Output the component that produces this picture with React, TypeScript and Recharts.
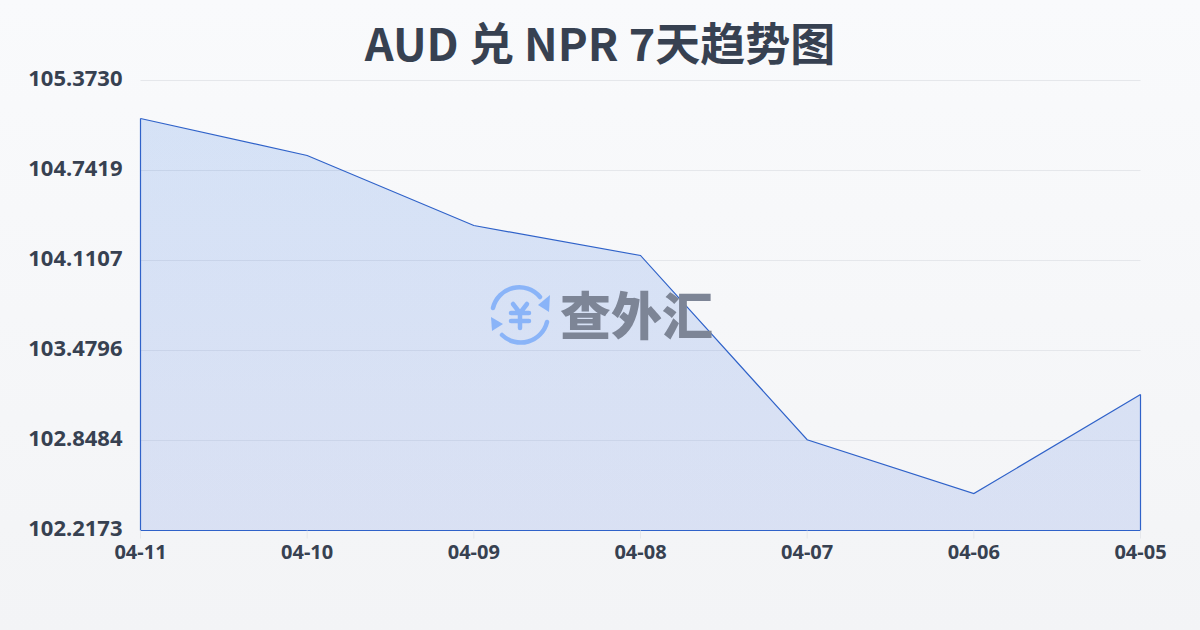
import { Area, AreaChart, CartesianGrid, ReferenceLine, XAxis, YAxis } from 'recharts'

const dates = ['04-11', '04-10', '04-09', '04-08', '04-07', '04-06', '04-05']
const rates = [105.1065, 104.847, 104.356, 104.146, 102.854, 102.476, 103.171]
const yTicks = [102.2173, 102.8484, 103.4796, 104.1107, 104.7419, 105.373]

const LINE = '#2f62c9'
const INK = '#374151'
const CJK_FONT = '"Noto Sans CJK SC", "Noto Sans", sans-serif'
const LABEL_FONT = '"Noto Sans", sans-serif'

const data = dates.map((date, i) => ({ date, rate: rates[i] }))
const yMin = yTicks[0]
const yMax = yTicks[yTicks.length - 1]
const firstDate = dates[0]
const lastDate = dates[dates.length - 1]

// Logo that sits in the middle of the chart
const Watermark = () => (
  <div style={{ position: 'absolute', left: 488, top: 280, width: 230, height: 70, pointerEvents: 'none' }}>
    <svg width={66} height={70} viewBox="0 0 66 70" style={{ position: 'absolute', left: 0, top: 0 }}>
      <g fill="none" stroke="#8ab4f8" strokeWidth={4.5} strokeLinecap="round">
        <path d="M5 28 A27 27 0 0 1 52 17" />
        <path d="M59 42 A27 27 0 0 1 14 55" />
        <path d="M25 24 L32 33 L39 24 M32 33 V48 M23 33 H41 M23 41 H41" />
      </g>
      <path d="M62 15 L61 32 L50 25 Z" fill="#8ab4f8" />
      <path d="M3 37 L4 51 L15 44 Z" fill="#8ab4f8" />
    </svg>
    <div
      style={{
        position: 'absolute',
        left: 72,
        top: -2,
        fontFamily: CJK_FONT,
        fontWeight: 900,
        fontSize: 51,
        lineHeight: '70px',
        color: '#7d8596',
        whiteSpace: 'nowrap',
      }}
    >
      查外汇
    </div>
  </div>
)

export default function App() {
  return (
    <div
      style={{
        position: 'absolute',
        left: 0,
        top: 0,
        width: 1200,
        height: 630,
        overflow: 'hidden',
        background: 'linear-gradient(180deg, #f9fafc 0%, #f3f4f6 100%)',
      }}
    >
      <div
        style={{
          position: 'absolute',
          left: 0,
          top: 10,
          width: 1200,
          textAlign: 'center',
          fontFamily: CJK_FONT,
          fontWeight: 700,
          fontSize: 45,
          lineHeight: '64px',
          color: INK,
        }}
      >
        AUD 兑 NPR 7天趋势图
      </div>
      <AreaChart
        width={1200}
        height={630}
        data={data}
        margin={{ top: 80.5, right: 59.5, bottom: 0, left: 0 }}
        style={{ position: 'absolute', left: 0, top: 0 }}
      >
        <defs>
          <linearGradient id="areaFill" x1="0" y1="0" x2="0" y2="1">
            <stop offset="0%" stopColor="#2f74e0" stopOpacity={0.17} />
            <stop offset="100%" stopColor="#2f5fdd" stopOpacity={0.135} />
          </linearGradient>
        </defs>
        <CartesianGrid horizontal vertical={false} stroke="#e5e7eb" strokeWidth={1} />
        <XAxis
          dataKey="date"
          scale="point"
          padding={{ left: 0, right: 0 }}
          interval={0}
          height={99.5}
          axisLine={false}
          tickLine={{ stroke: '#e5e7eb' }}
          tickSize={8}
          tickMargin={6}
          tick={{ fill: INK, fontSize: 20, fontWeight: 700, fontFamily: LABEL_FONT }}
        />
        <YAxis
          domain={[yMin, yMax]}
          ticks={yTicks}
          width={140.5}
          axisLine={false}
          tickLine={false}
          tickMargin={18}
          tickSize={0}
          dy={-2}
          tickFormatter={(v: number) => v.toFixed(4)}
          tick={{ fill: INK, fontSize: 22, fontWeight: 700, fontFamily: LABEL_FONT }}
        />
        <Area
          type="linear"
          dataKey="rate"
          baseValue={yMin}
          stroke={LINE}
          strokeWidth={1.2}
          fill="url(#areaFill)"
          fillOpacity={1}
          dot={false}
          activeDot={false}
          isAnimationActive={false}
        />
        <ReferenceLine y={yMin} stroke={LINE} strokeWidth={1.2} />
        <ReferenceLine
          segment={[{ x: firstDate, y: yMin }, { x: firstDate, y: rates[0] }]}
          stroke={LINE}
          strokeWidth={1.2}
        />
        <ReferenceLine
          segment={[{ x: lastDate, y: yMin }, { x: lastDate, y: rates[rates.length - 1] }]}
          stroke={LINE}
          strokeWidth={1.2}
        />
      </AreaChart>
      <Watermark />
    </div>
  )
}
